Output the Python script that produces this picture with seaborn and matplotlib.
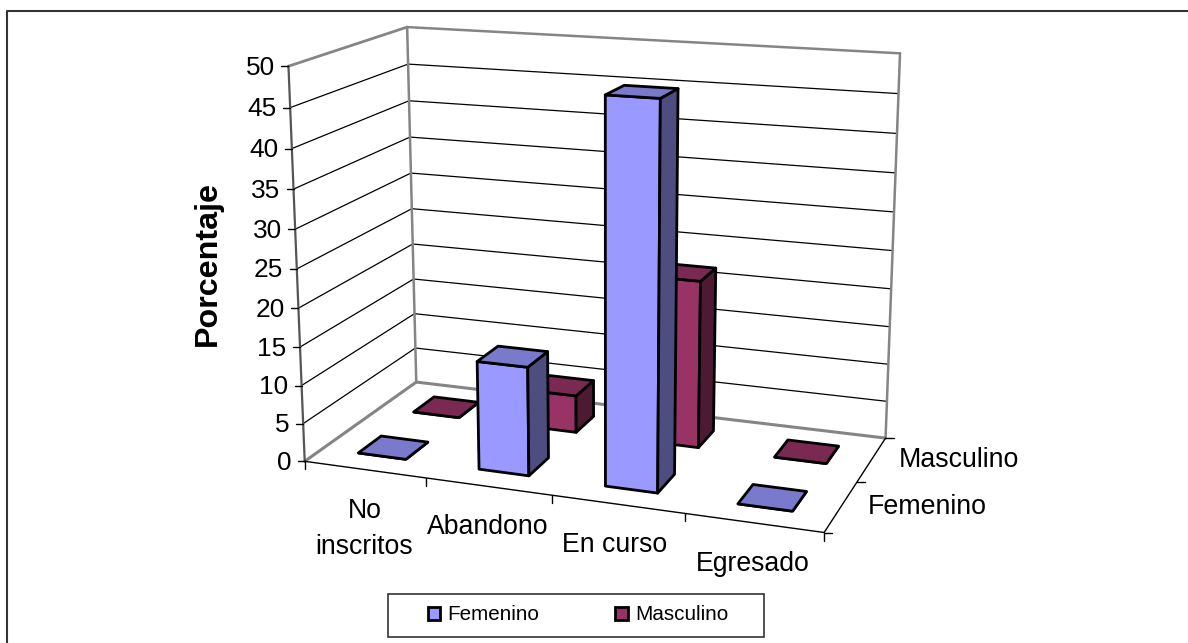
import numpy as np
import matplotlib
matplotlib.use("Agg")
import matplotlib.pyplot as plt
from matplotlib.patches import Patch, Rectangle
import seaborn as sns

categories = ["No\ninscritos", "Abandono", "En curso", "Egresado"]
series_names = ["Femenino", "Masculino"]
femenino = [0, 14, 48, 0]
masculino = [0, 5, 22, 0]
y_ticks = [0, 5, 10, 15, 20, 25, 30, 35, 40, 45, 50]

front_colors = ["#9999FF", "#993366"]

# box corners on the picture: (category, series, value) -> pixel
world_pts = [(0, 0, 0), (4, 0, 0), (4, 2, 0), (0, 2, 0), (0, 0, 50), (0, 2, 50), (4, 2, 50)]
pixel_pts = [(305, 461.7), (824, 532.3), (885.7, 438.3), (416, 381.7),
             (288.3, 66), (407.3, 27.3), (900, 53.3)]


def fit_camera(world, pixel):
    rows = []
    for (x, y, z), (u, v) in zip(world, pixel):
        rows.append([x, y, z, 1, 0, 0, 0, 0, -u*x, -u*y, -u*z, -u])
        rows.append([0, 0, 0, 0, x, y, z, 1, -v*x, -v*y, -v*z, -v])
    return np.linalg.svd(np.array(rows, dtype=float))[2][-1].reshape(3, 4)


camera = fit_camera(world_pts, pixel_pts)


def project(x, y, z):
    p = camera @ np.array([x, y, z, 1.0])
    return p[0] / p[2], p[1] / p[2]


def face(ax, corners, color, **kw):
    pts = np.array([project(*c) for c in corners])
    ax.fill(pts[:, 0], pts[:, 1], facecolor=color, **kw)


def edge(ax, a, b, color="black", lw=1.0, **kw):
    pa, pb = project(*a), project(*b)
    ax.plot([pa[0], pb[0]], [pa[1], pb[1]], color=color, lw=lw, solid_capstyle="round", **kw)


def draw_bar(ax, i, s, value, color, width=0.4):
    x0, x1 = i + 0.5 - width / 2, i + 0.5 + width / 2
    y0, y1 = s + 0.5 - width / 2, s + 0.5 + width / 2
    rgb = np.array(matplotlib.colors.to_rgb(color))
    style = dict(edgecolor="black", lw=2.0, joinstyle="round", zorder=3)
    face(ax, [(x0, y0, 0), (x1, y0, 0), (x1, y0, value), (x0, y0, value)], color, **style)
    face(ax, [(x1, y0, 0), (x1, y1, 0), (x1, y1, value), (x1, y0, value)], rgb * 0.5, **style)
    face(ax, [(x0, y0, value), (x1, y0, value), (x1, y1, value), (x0, y1, value)], rgb * 0.8, **style)


sns.set_theme(style="white")
plt.rcParams["font.family"] = ["Liberation Sans", "DejaVu Sans"]

fig = plt.figure(figsize=(11.88, 6.43), dpi=100)
ax = fig.add_axes([0, 0, 1, 1])
ax.set_xlim(0, 1188)
ax.set_ylim(643, 0)
ax.axis("off")

# outer chart frame
ax.plot([6.5, 6.5, 1188], [643, 10.5, 10.5], color="#333333", lw=1.5)

n_cat = len(categories)
n_ser = len(series_names)
top = y_ticks[-1]

# gridlines on both walls
for v in y_ticks[1:-1]:
    edge(ax, (0, 0, v), (0, n_ser, v), lw=0.9)
    edge(ax, (0, n_ser, v), (n_cat, n_ser, v), lw=0.9)

# grey wall outlines
grey = "#858585"
edge(ax, (0, 0, top), (0, n_ser, top), color=grey, lw=2)
edge(ax, (0, n_ser, top), (n_cat, n_ser, top), color=grey, lw=1.8)
edge(ax, (0, n_ser, 0), (0, n_ser, top), color=grey, lw=1.8)
edge(ax, (n_cat, n_ser, 0), (n_cat, n_ser, top), color=grey, lw=1.8)
edge(ax, (0, 0, 0), (0, n_ser, 0), color=grey, lw=2.2)
edge(ax, (0, n_ser, 0), (n_cat, n_ser, 0), color=grey, lw=2.2)
edge(ax, (0, 0, 0), (0, 0, top), color="#555555", lw=1.6)

# floor front and side edges
edge(ax, (0, 0, 0), (n_cat, 0, 0), lw=1.0)
edge(ax, (n_cat, 0, 0), (n_cat, n_ser, 0), lw=1.0)

# value axis
for v in y_ticks:
    x, y = project(0, 0, v)
    ax.plot([x - 7, x], [y, y], color="black", lw=1.0)
    ax.text(x - 13.5, y + 1.5, str(v), ha="right", va="center", fontsize=18.9, color="black")

# category axis, labels nudged a little like the original layout
label_dx = [0, 0, -3, -1]
for i in range(n_cat + 1):
    x, y = project(i, 0, 0)
    ax.plot([x, x], [y, y + 8], color="black", lw=1.0)
for i, name in enumerate(categories):
    x, y = project(i + 0.5, 0, 0)
    ax.text(x + label_dx[i], y + 28, name, ha="center", va="top", fontsize=19.2,
            color="black", linespacing=1.5)

# series axis
for s in range(n_ser + 1):
    x, y = project(n_cat, s, 0)
    ax.plot([x, x + 8], [y, y], color="black", lw=1.0)
for s, name in enumerate(series_names):
    x, y = project(n_cat, s + 0.5, 0)
    ax.text(x + 27, y, name, ha="left", va="center", fontsize=19.3, color="black")

ax.text(208, 263, "Porcentaje", rotation=90, ha="center", va="center",
        fontsize=23.2, fontweight="bold", color="black")

# back row first so the front row paints over it
for i, v in enumerate(masculino):
    draw_bar(ax, i, 1, v, front_colors[1])
for i, v in enumerate(femenino):
    draw_bar(ax, i, 0, v, front_colors[0])

# legend
ax.add_patch(Rectangle((387.5, 593.5), 376, 43, facecolor="white", edgecolor="#333333", lw=1.2))
handles = [Patch(facecolor=c, edgecolor="black", lw=2, label=n)
           for c, n in zip(front_colors, series_names)]
ax.legend(handles=handles, ncol=2, loc="center", bbox_to_anchor=(578 / 1188, 1 - 615 / 643),
          frameon=False, fontsize=14.85, handlelength=0.6, handleheight=0.6,
          handletextpad=0.35, columnspacing=3.7, borderpad=0, labelcolor="black")

fig.savefig("out.png", dpi=100)
